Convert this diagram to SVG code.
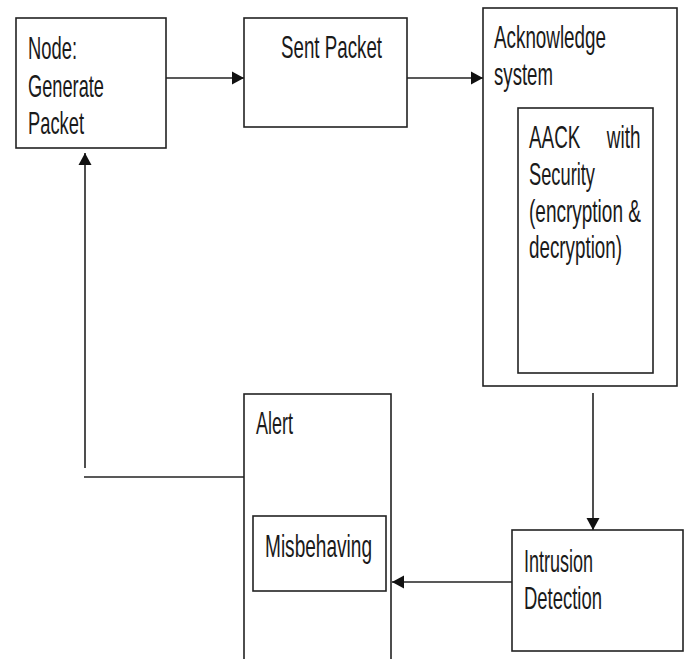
<svg xmlns="http://www.w3.org/2000/svg" width="686" height="659" viewBox="0 0 686 659">
<style>
.box{fill:#fff;stroke:#222;stroke-width:1.6}
.t{font-family:"Liberation Sans",Arial,sans-serif;font-size:32px;fill:#1a1a1a}
.ln{fill:none;stroke:#222;stroke-width:1.6}
</style>
<defs>
<marker id="ah" markerUnits="userSpaceOnUse" markerWidth="13" markerHeight="14" refX="12" refY="7" orient="auto">
<path d="M0,0.5 L12,7 L0,13.5 Z" fill="#111"/>
</marker>
</defs>
<rect width="686" height="659" fill="#fff"/>
<g id="connectors">
<line class="ln" x1="166" y1="78" x2="244" y2="78" marker-end="url(#ah)"/>
<line class="ln" x1="407" y1="78" x2="483" y2="78" marker-end="url(#ah)"/>
<line class="ln" x1="593" y1="393" x2="593" y2="530" marker-end="url(#ah)"/>
<line class="ln" x1="512" y1="582" x2="392" y2="582" marker-end="url(#ah)"/>
<line class="ln" x1="244" y1="477" x2="84" y2="477"/>
<line class="ln" x1="85" y1="468" x2="85" y2="153" marker-end="url(#ah)"/>
</g>
<g id="node-generate">
<rect class="box" x="16" y="18" width="150" height="130"/>
<text class="t" x="28" y="59" textLength="49" lengthAdjust="spacingAndGlyphs">Node:</text>
<text class="t" x="28" y="97" textLength="76" lengthAdjust="spacingAndGlyphs">Generate</text>
<text class="t" x="28" y="134" textLength="56" lengthAdjust="spacingAndGlyphs">Packet</text>
</g>
<g id="sent-packet">
<rect class="box" x="244" y="18" width="163" height="109"/>
<text class="t" x="281" y="58" textLength="101" lengthAdjust="spacingAndGlyphs">Sent Packet</text>
</g>
<g id="acknowledge">
<rect class="box" x="483" y="8" width="194" height="378"/>
<text class="t" x="494" y="48" textLength="112" lengthAdjust="spacingAndGlyphs">Acknowledge</text>
<text class="t" x="494" y="85" textLength="59" lengthAdjust="spacingAndGlyphs">system</text>
</g>
<g id="aack">
<rect class="box" x="518" y="108" width="135" height="265"/>
<text class="t" transform="translate(529,148) scale(0.59,1)"><tspan x="0" y="0">AACK</tspan><tspan x="132" y="0">with</tspan></text>
<text class="t" x="529" y="185" textLength="66" lengthAdjust="spacingAndGlyphs">Security</text>
<text class="t" transform="translate(529,222) scale(0.594,1)" x="0" y="0">(encryption &amp;</text>
<text class="t" x="529" y="258" textLength="93" lengthAdjust="spacingAndGlyphs">decryption)</text>
</g>
<g id="intrusion">
<rect class="box" x="512" y="530" width="171" height="121"/>
<text class="t" x="524" y="572" textLength="69" lengthAdjust="spacingAndGlyphs">Intrusion</text>
<text class="t" x="524" y="609" textLength="78" lengthAdjust="spacingAndGlyphs">Detection</text>
</g>
<g id="alert">
<rect class="box" x="244" y="394" width="147" height="280"/>
<text class="t" x="256" y="434" textLength="37" lengthAdjust="spacingAndGlyphs">Alert</text>
</g>
<g id="misbehaving">
<rect class="box" x="253" y="516" width="133" height="75"/>
<text class="t" x="265" y="557" textLength="107" lengthAdjust="spacingAndGlyphs">Misbehaving</text>
</g>
</svg>
